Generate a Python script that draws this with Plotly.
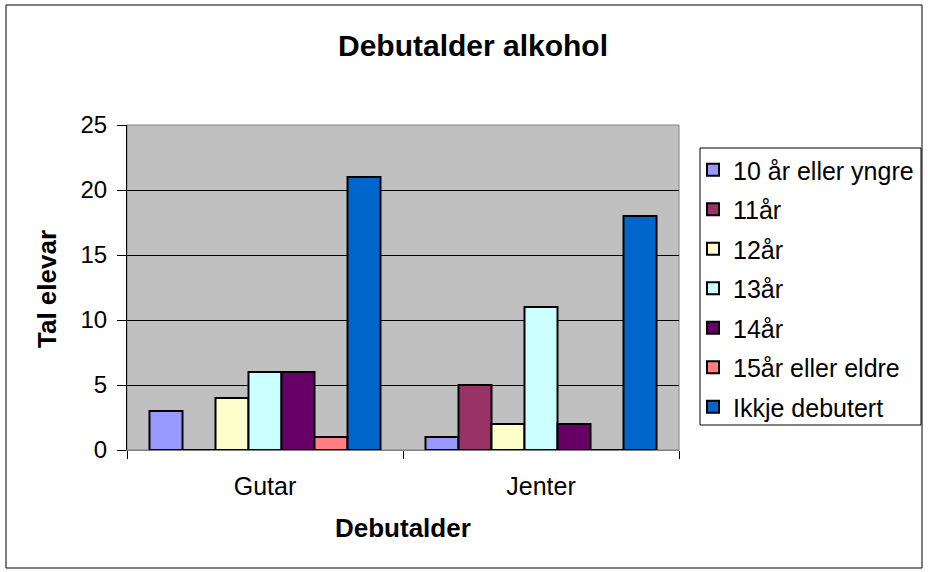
import plotly.graph_objects as go

categories = ["Gutar", "Jenter"]
series_names = ["10 år eller yngre", "11år", "12år", "13år", "14år", "15år eller eldre", "Ikkje debutert"]
series_values = [
    [3, 1],
    [0, 5],
    [4, 2],
    [6, 11],
    [6, 2],
    [1, 0],
    [21, 18],
]
series_colors = ["#9999FF", "#993366", "#FFFFCC", "#CCFFFF", "#660066", "#FF8080", "#0066CC"]
y_ticks = [0, 5, 10, 15, 20, 25]

FONT = "Liberation Sans, Arial, sans-serif"

fig = go.Figure()
for name, vals, col in zip(series_names, series_values, series_colors):
    fig.add_trace(go.Bar(
        x=categories, y=vals, name=name, legendgroup=name,
        marker=dict(color=col, line=dict(color="black", width=2)),
    ))

W, H = 928, 572
L, R, T, B = 127, 679, 125, 450
PW, PH = R - L, B - T


def px(x):
    return (x - L) / PW


def py(y):
    return (B - y) / PH


fig.update_layout(
    width=W, height=H,
    margin=dict(l=L, r=W - R, t=T, b=H - B, pad=0, autoexpand=False),
    paper_bgcolor="white",
    plot_bgcolor="#C0C0C0",
    barmode="group",
    bargap=0.163,
    bargroupgap=0,
    font=dict(family=FONT, size=24, color="black"),
    title=dict(text="<b>Debutalder alkohol</b>", x=473 / W, xanchor="center",
               y=1 - 45 / H, yanchor="middle", font=dict(size=30)),
    showlegend=True,
    legend=dict(
        x=px(693), xanchor="left",
        y=py(147), yanchor="top",
        borderwidth=0, bgcolor="rgba(0,0,0,0)",
        font=dict(size=25), tracegroupgap=4,
    ),
    xaxis=dict(
        showgrid=False, ticks="outside", tickson="boundaries", ticklen=8,
        tickcolor="black", showline=True, linecolor="#808080", linewidth=1,
        tickfont=dict(size=25), ticklabelstandoff=14,
    ),
    yaxis=dict(
        range=[0, 25], tickvals=y_ticks, showgrid=True, gridcolor="black", gridwidth=1,
        ticks="outside", ticklen=9, tickcolor="black", showline=True, linecolor="black",
        linewidth=1, tickfont=dict(size=24), zeroline=False, ticklabelstandoff=5,
    ),
    annotations=[
        dict(text="<b>Tal elevar</b>", textangle=-90, xref="paper", yref="paper",
             x=px(47), y=py(289), showarrow=False,
             font=dict(size=26), xanchor="center", yanchor="middle"),
        dict(text="<b>Debutalder</b>", xref="paper", yref="paper",
             x=px(403), y=py(528), showarrow=False,
             font=dict(size=26), xanchor="center", yanchor="middle"),
    ],
    shapes=[
        dict(type="rect", xref="paper", yref="paper", x0=0, x1=1, y0=0, y1=1,
             line=dict(color="#808080", width=1), layer="below"),
        dict(type="rect", xref="paper", yref="paper",
             x0=px(6), x1=px(922), y0=py(568), y1=py(5),
             line=dict(color="black", width=1)),
        dict(type="rect", xref="paper", yref="paper",
             x0=px(700), x1=px(921), y0=py(425), y1=py(148),
             line=dict(color="black", width=1)),
    ],
)

fig.write_html("out.html", config={"displayModeBar": False},
               post_script="document.body.style.margin='0px';document.body.style.overflow='hidden';")
